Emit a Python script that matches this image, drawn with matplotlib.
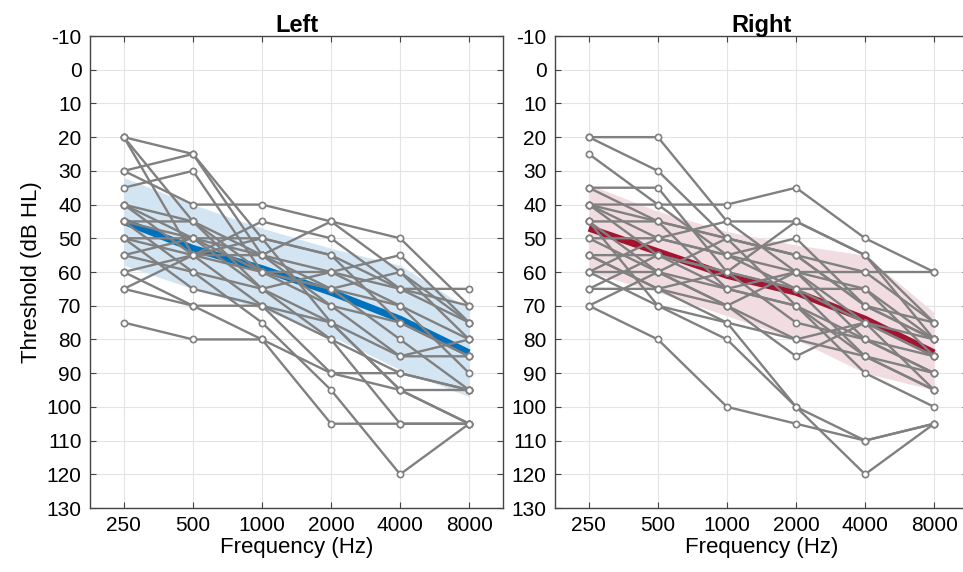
import numpy as np
import matplotlib.pyplot as plt

plt.rcParams['font.family'] = ['Liberation Sans', 'DejaVu Sans']
plt.rcParams['axes.unicode_minus'] = False

# frequencies (Hz)
freqs = [250, 500, 1000, 2000, 4000, 8000]

# individual thresholds, left ear (dB HL)
left_subj = [
    [20, 25, 50, 75, 95, 105],
    [20, 45, 65, 80, 105, 105],
    [20, 55, 70, 90, 95, 105],
    [30, 25, 55, 65, 80, 95],
    [30, 40, 40, 45, 50, 70],
    [35, 30, 60, 70, 75, 85],
    [40, 45, 60, 65, 60, 80],
    [40, 55, 45, 50, 65, 75],
    [45, 50, 50, 55, 75, 85],
    [45, 60, 65, 60, 70, 90],
    [50, 55, 55, 70, 85, 85],
    [50, 50, 60, 60, 55, 75],
    [50, 65, 70, 80, 90, 95],
    [55, 50, 65, 75, 85, 80],
    [55, 60, 75, 95, 120, 105],
    [60, 55, 60, 65, 70, 80],
    [60, 70, 80, 90, 90, 95],
    [65, 55, 50, 55, 65, 65],
    [65, 70, 70, 75, 95, 95],
    [75, 80, 80, 105, 105, 105],
    [45, 45, 55, 60, 65, 70],
    [40, 50, 55, 45, 60, 75],
]

# individual thresholds, right ear (dB HL)
right_subj = [
    [20, 20, 45, 60, 75, 80],
    [20, 30, 50, 55, 60, 75],
    [25, 40, 55, 65, 85, 95],
    [35, 35, 60, 45, 55, 80],
    [35, 45, 50, 70, 90, 100],
    [40, 40, 40, 35, 50, 60],
    [40, 50, 55, 60, 60, 60],
    [40, 55, 60, 75, 80, 85],
    [45, 45, 50, 55, 70, 75],
    [45, 60, 65, 60, 65, 85],
    [50, 50, 55, 50, 70, 80],
    [50, 60, 70, 80, 85, 90],
    [55, 55, 60, 65, 75, 85],
    [55, 65, 75, 100, 110, 105],
    [60, 50, 45, 45, 55, 75],
    [60, 70, 80, 100, 120, 105],
    [65, 55, 65, 70, 80, 90],
    [65, 65, 60, 65, 65, 80],
    [70, 80, 100, 105, 110, 105],
    [70, 60, 70, 85, 75, 95],
    [55, 65, 70, 60, 80, 90],
    [45, 70, 75, 80, 75, 85],
    [60, 60, 50, 55, 70, 80],
    [40, 45, 65, 70, 85, 95],
]

# group mean and spread
left_mean = [45, 53, 59, 66, 74, 84]
left_lo = [32, 40, 47, 53, 58, 71]
left_hi = [58, 65, 71, 79, 89, 97]
right_mean = [47, 54, 61, 66, 74, 84]
right_lo = [34, 42, 48, 52, 55, 72]
right_hi = [60, 66, 73, 80, 90, 95]

fig = plt.figure(figsize=(9.63, 5.72), dpi=100)
ax1 = fig.add_axes([90/963, 1 - 508/572, 413/963, 472/572])
ax2 = fig.add_axes([555/963, 1 - 508/572, 413/963, 472/572])

panels = [
    (ax1, 'Left', left_subj, left_mean, left_lo, left_hi, '#0072BD', '#d3e5f3'),
    (ax2, 'Right', right_subj, right_mean, right_lo, right_hi, '#A2142F', '#f1dde1'),
]

for ax, title, subj, mean, lo, hi, col, band in panels:
    ax.fill_between(freqs, lo, hi, color=band, lw=0, zorder=1)
    ax.plot(freqs, mean, color=col, lw=5, solid_capstyle='butt', zorder=2)
    for s in subj:
        ax.plot(freqs, s, color='#808080', lw=1.7, marker='o', ms=4.5,
                mfc='white', mec='#808080', mew=1.2, zorder=3)
    ax.set_xscale('log', base=2)
    ax.set_xlim(250 / 2**0.49, 8000 * 2**0.49)
    ax.set_xticks(freqs)
    ax.set_xticklabels([str(f) for f in freqs])
    ax.minorticks_off()
    ax.set_ylim(130, -10)
    ax.set_yticks(range(-10, 131, 10))
    ax.grid(True, color='#e3e3e3', lw=0.8)
    ax.set_axisbelow(True)
    ax.tick_params(direction='in', top=True, right=True, labelsize=15,
                   length=4, color='#444444', pad=6)
    for sp in ax.spines.values():
        sp.set_color('#444444')
        sp.set_linewidth(1.0)
    ax.set_title(title, fontsize=17, fontweight='bold', pad=3)
    ax.set_xlabel('Frequency (Hz)', fontsize=16, labelpad=1)

ax1.set_ylabel('Threshold (dB HL)', fontsize=16, labelpad=3)

fig.savefig('out.png', dpi=100)
